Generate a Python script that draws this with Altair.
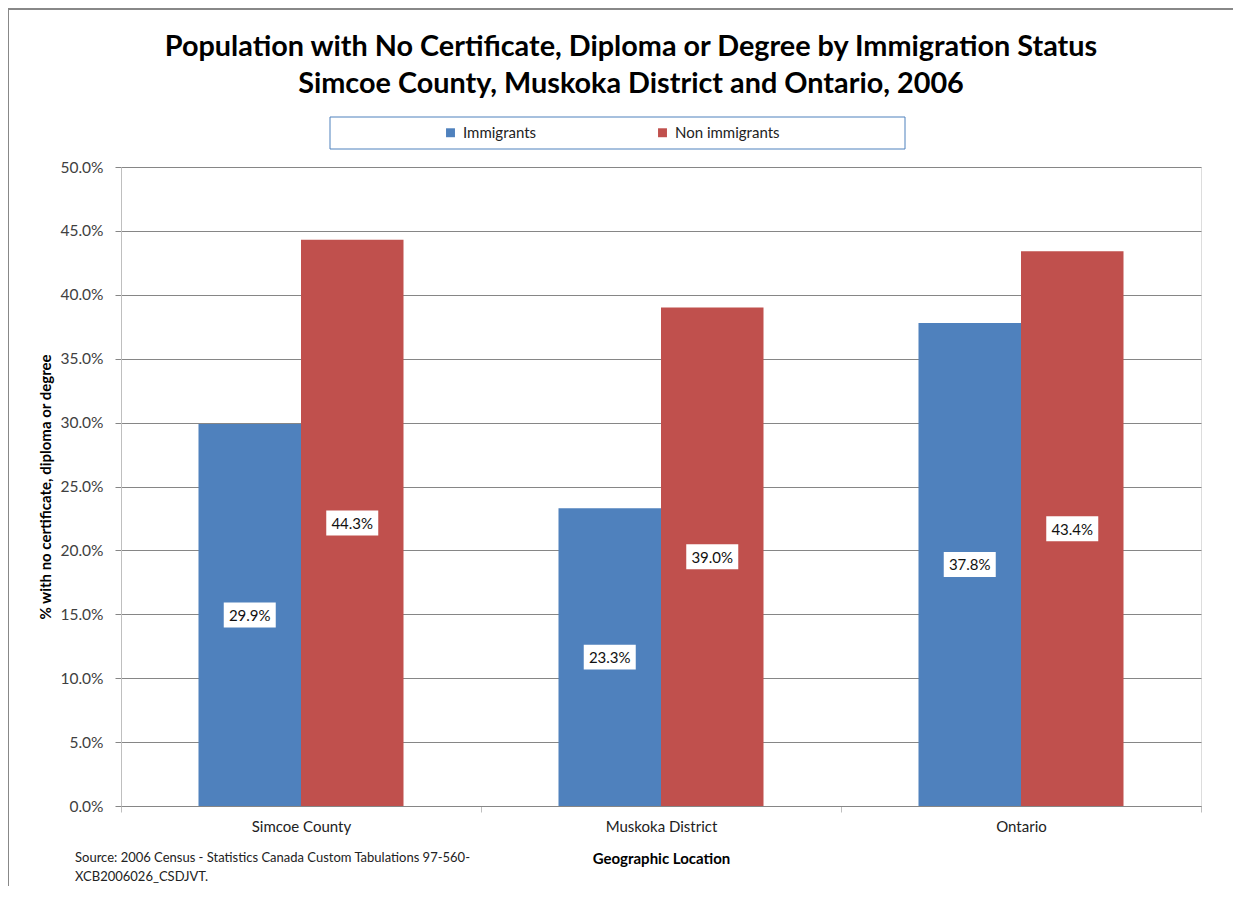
import altair as alt
import pandas as pd

# ---- data ----
locations = ["Simcoe County", "Muskoka District", "Ontario"]
immigrants = [0.299, 0.233, 0.378]
non_immigrants = [0.443, 0.390, 0.434]
series = ["Immigrants", "Non immigrants"]
colors = ["#4F81BD", "#C0504D"]

title_lines = [
    "Population with No Certificate, Diploma or Degree by Immigration Status",
    "Simcoe County, Muskoka District and Ontario, 2006",
]
source_lines = [
    "Source: 2006 Census - Statistics Canada Custom Tabulations 97-560-",
    "XCB2006026_CSDJVT.",
]
y_title = "% with no certificate, diploma or degree"
x_title = "Geographic Location"

rows = []
for loc, a, b in zip(locations, immigrants, non_immigrants):
    rows.append({"location": loc, "status": series[0], "value": a})
    rows.append({"location": loc, "status": series[1], "value": b})
df = pd.DataFrame(rows)

FONT = "Lato"
W, H = 1080, 639

x_enc = alt.X(
    "location:N",
    sort=locations,
    scale=alt.Scale(paddingInner=0, paddingOuter=0),
    axis=alt.Axis(
        title=x_title,
        titleFont=FONT,
        titleFontSize=15,
        titleFontWeight="bold",
        titleColor="#000000",
        titleY=57,
        titleBaseline="alphabetic",
        labelFont=FONT,
        labelFontSize=15,
        labelColor="#222222",
        labelPadding=7,
        tickBand="extent",
        tickSize=6,
        tickColor="#BFBFBF",
        domainColor="#868686",
        labelAngle=0,
        grid=False,
    ),
)
xoff_enc = alt.XOffset(
    "status:N",
    sort=series,
    scale=alt.Scale(paddingOuter=0.756, paddingInner=0),
)
y_enc = alt.Y(
    "value:Q",
    scale=alt.Scale(domain=[0, 0.5], nice=False),
    axis=alt.Axis(
        title=y_title,
        format=".1%",
        values=[i * 0.05 for i in range(11)],
        titleFont=FONT,
        titleFontSize=15,
        titleFontWeight="bold",
        titleColor="#000000",
        titleAngle=270,
        titleX=-76,
        titleY=H / 2,
        titleAlign="center",
        titleBaseline="middle",
        labelFont=FONT,
        labelFontSize=15.5,
        labelColor="#404040",
        labelPadding=12,
        tickSize=6,
        tickColor="#868686",
        domainColor="#BFBFBF",
        gridColor="#868686",
        gridWidth=1,
    ),
)

bars = alt.Chart(df).mark_bar().encode(
    x=x_enc,
    xOffset=xoff_enc,
    y=y_enc,
    color=alt.Color(
        "status:N",
        sort=series,
        scale=alt.Scale(domain=series, range=colors),
        legend=alt.Legend(
            title=None,
            orient="none",
            legendX=322,
            legendY=-42,
            direction="horizontal",
            symbolType="square",
            symbolSize=80,
            symbolStrokeWidth=0,
            labelFont=FONT,
            labelFontSize=15,
            labelColor="#222222",
            labelOffset=5,
            columnPadding=118,
            padding=0,
        ),
    ),
)

base_lbl = alt.Chart(df).transform_calculate(mid="datum.value / 2")

boxes = base_lbl.mark_point(
    shape="M-1,-0.48L1,-0.48L1,0.48L-1,0.48Z",
    filled=True,
    fill="white",
    opacity=1,
    size=2704,
    strokeWidth=0,
).encode(
    x=alt.X("location:N", sort=locations),
    xOffset=alt.XOffset("status:N", sort=series),
    y=alt.Y("mid:Q"),
)

labels = base_lbl.mark_text(
    font=FONT, fontSize=15, color="#111111", baseline="middle", align="center", dy=1
).encode(
    x=alt.X("location:N", sort=locations),
    xOffset=alt.XOffset("status:N", sort=series),
    y=alt.Y("mid:Q"),
    text=alt.Text("value:Q", format=".1%"),
)

one = pd.DataFrame({"t": ["\n".join(title_lines)], "s": ["\n".join(source_lines)]})

title = alt.Chart(one).mark_text(
    font=FONT, fontSize=28.8, fontWeight="bold", color="#000000",
    lineBreak="\n", lineHeight=37, align="center", baseline="alphabetic",
).encode(x=alt.value(510), y=alt.value(-111), text="t:N")

source = alt.Chart(one).mark_text(
    font=FONT, fontSize=13, color="#222222",
    lineBreak="\n", lineHeight=19, align="left", baseline="alphabetic",
).encode(x=alt.value(-46), y=alt.value(H + 56), text="s:N")

legend_box = alt.Chart(one).mark_rect(
    fill="white", stroke="#4F81BD", strokeWidth=1
).encode(x=alt.value(209), x2=alt.value(784), y=alt.value(-50), y2=alt.value(-18))

top_border = alt.Chart(one).mark_rule(color="#888888", strokeWidth=2).encode(
    x=alt.value(-113), x2=alt.value(1112), y=alt.value(-158)
)
left_border = alt.Chart(one).mark_rule(color="#888888", strokeWidth=1).encode(
    x=alt.value(-112.5), y=alt.value(-159), y2=alt.value(720)
)

chart = alt.layer(
    top_border, left_border, legend_box, title, source, bars, boxes, labels
).properties(
    width=W,
    height=H,
    autosize=alt.AutoSizeParams(type="none"),
    padding={"left": 113, "top": 159, "right": 32, "bottom": 80},
).configure_view(stroke=None).configure(background="white")

chart.save("out.html", embed_options={"renderer": "svg", "actions": False})
